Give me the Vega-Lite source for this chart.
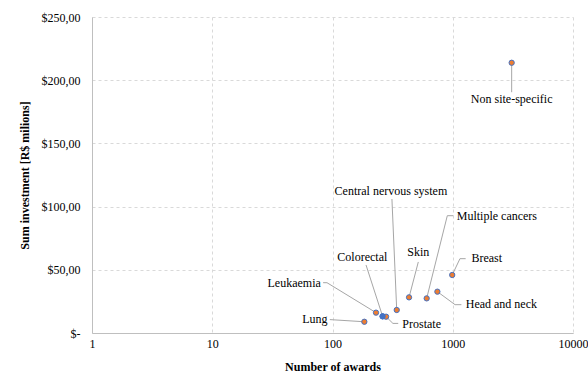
{
  "$schema": "https://vega.github.io/schema/vega-lite/v6.json",
  "width": 481,
  "height": 316,
  "autosize": "none",
  "padding": {"left": 92, "top": 17, "right": 15, "bottom": 40},
  "background": "white",
  "config": {
    "view": {"stroke": null},
    "font": "Liberation Serif"
  },
  "data": {
    "values": [
      {"name": "Non site-specific", "awards": 3090, "investment": 213.8, "lx": 3090, "ly": 184.9, "bx": 3090, "by": 190.5, "ex": 3090, "ey": 190.5},
      {"name": "Breast", "awards": 990, "investment": 45.9, "lx": 1430, "ly": 59.3, "bx": 1148, "by": 58.8, "ex": 1280, "ey": 58.8},
      {"name": "Head and neck", "awards": 745, "investment": 32.7, "lx": 1282, "ly": 22.9, "bx": 1045, "by": 22.4, "ex": 1180, "ey": 22.4},
      {"name": "Multiple cancers", "awards": 607, "investment": 27.4, "lx": 1079, "ly": 92.6, "bx": 901, "by": 92.8, "ex": 1011, "ey": 92.8},
      {"name": "Skin", "awards": 433, "investment": 28.2, "lx": 517, "ly": 64.3, "bx": 517, "by": 56.2, "ex": 517, "ey": 56.2},
      {"name": "Central nervous system", "awards": 342, "investment": 18.2, "lx": 306, "ly": 112.6, "bx": 312, "by": 106, "ex": 312, "ey": 106},
      {"name": "Leukaemia", "awards": 230, "investment": 16.1, "lx": 80, "ly": 39.8, "bx": 90, "by": 39.8, "ex": 83.5, "ey": 39.8},
      {"name": "Colorectal", "awards": 261, "investment": 13.2, "lx": 177, "ly": 60.4, "bx": 190, "by": 53.8, "ex": 190, "ey": 53.8},
      {"name": "Prostate", "awards": 279, "investment": 12.9, "lx": 381, "ly": 7.1, "bx": 318, "by": 7.6, "ex": 352, "ey": 7.6},
      {"name": "Lung", "awards": 184, "investment": 8.9, "lx": 91, "ly": 10.8, "bx": 95, "by": 10.6, "ex": 95, "ey": 10.6}
    ]
  },
  "layer": [
    {
      "mark": {"type": "rule", "color": "#a6a6a6", "strokeWidth": 1},
      "encoding": {
        "x": {
          "field": "awards", "type": "quantitative",
          "scale": {"type": "log", "domain": [1, 10000], "nice": false},
          "axis": {
            "title": "Number of awards",
            "titleFont": "Liberation Serif", "titleFontSize": 12, "titleFontWeight": "bold", "titleColor": "#000",
            "titlePadding": 12,
            "values": [1, 10, 100, 1000, 10000],
            "format": "d",
            "labelFont": "Liberation Serif", "labelFontSize": 12, "labelColor": "#000",
            "labelFlush": false,
            "labelPadding": 5,
            "ticks": false,
            "domainColor": "#bfbfbf",
            "grid": true, "gridColor": "#d9d9d9", "gridDash": [3, 3]
          }
        },
        "y": {
          "field": "investment", "type": "quantitative",
          "scale": {"domain": [0, 250], "nice": false},
          "axis": {
            "title": "Sum investment [R$ milions]",
            "titleFont": "Liberation Serif", "titleFontSize": 12, "titleFontWeight": "bold", "titleColor": "#000",
            "titlePadding": 10,
            "values": [0, 50, 100, 150, 200, 250],
            "labelExpr": "datum.value == 0 ? '$-' : '$' + replace(format(datum.value, '.2f'), '.', ',')",
            "labelFont": "Liberation Serif", "labelFontSize": 12, "labelColor": "#000",
            "labelPadding": 12,
            "ticks": false,
            "domainColor": "#bfbfbf",
            "grid": true, "gridColor": "#d9d9d9", "gridDash": [3, 3]
          }
        },
        "x2": {"field": "bx"},
        "y2": {"field": "by"}
      }
    },
    {
      "mark": {"type": "rule", "color": "#a6a6a6", "strokeWidth": 1},
      "encoding": {
        "x": {"field": "bx", "type": "quantitative"},
        "y": {"field": "by", "type": "quantitative"},
        "x2": {"field": "ex"},
        "y2": {"field": "ey"}
      }
    },
    {
      "mark": {"type": "point", "filled": true, "fill": "#ED7D31", "stroke": "#4472C4", "strokeWidth": 1, "opacity": 1, "size": 28},
      "encoding": {
        "x": {"field": "awards", "type": "quantitative"},
        "y": {"field": "investment", "type": "quantitative"}
      }
    },
    {
      "transform": [{"filter": "datum.name == 'Colorectal'"}],
      "mark": {"type": "point", "filled": true, "fill": "#4472C4", "stroke": "#4472C4", "strokeWidth": 1, "opacity": 1, "size": 28},
      "encoding": {
        "x": {"field": "awards", "type": "quantitative"},
        "y": {"field": "investment", "type": "quantitative"}
      }
    },
    {
      "transform": [{"filter": "indexof(['Non site-specific','Skin','Central nervous system','Colorectal'], datum.name) >= 0"}],
      "mark": {"type": "text", "align": "center", "baseline": "middle", "font": "Liberation Serif", "fontSize": 12, "color": "#000"},
      "encoding": {
        "x": {"field": "lx", "type": "quantitative"},
        "y": {"field": "ly", "type": "quantitative"},
        "text": {"field": "name"}
      }
    },
    {
      "transform": [{"filter": "indexof(['Breast','Head and neck','Multiple cancers','Prostate'], datum.name) >= 0"}],
      "mark": {"type": "text", "align": "left", "baseline": "middle", "font": "Liberation Serif", "fontSize": 12, "color": "#000"},
      "encoding": {
        "x": {"field": "lx", "type": "quantitative"},
        "y": {"field": "ly", "type": "quantitative"},
        "text": {"field": "name"}
      }
    },
    {
      "transform": [{"filter": "indexof(['Leukaemia','Lung'], datum.name) >= 0"}],
      "mark": {"type": "text", "align": "right", "baseline": "middle", "font": "Liberation Serif", "fontSize": 12, "color": "#000"},
      "encoding": {
        "x": {"field": "lx", "type": "quantitative"},
        "y": {"field": "ly", "type": "quantitative"},
        "text": {"field": "name"}
      }
    }
  ]
}
